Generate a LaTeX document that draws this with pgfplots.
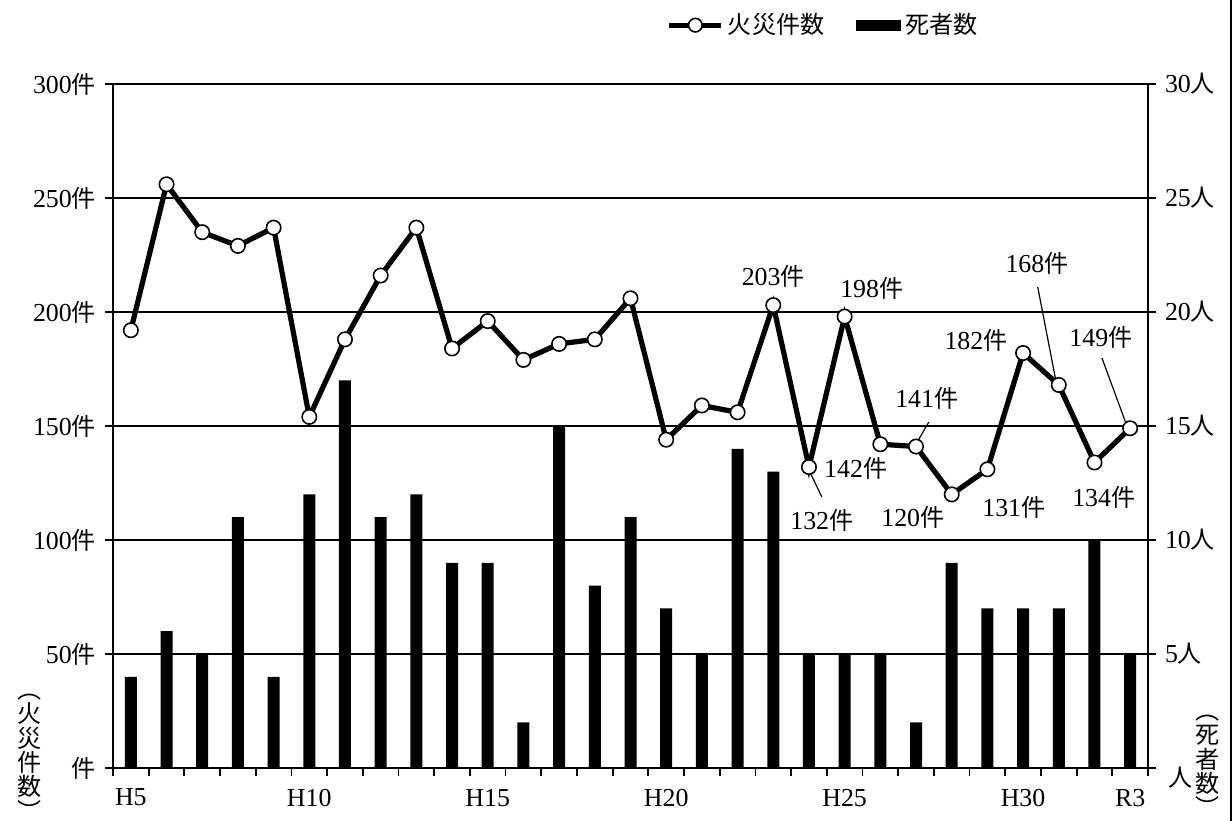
\documentclass[border=0pt]{standalone}
\usepackage{fontspec}
\setmainfont{Liberation Serif}
\newfontfamily\jp{Noto Sans CJK JP}[Scale=0.93]
\usepackage{pgfplots}
\pgfplotsset{compat=1.18}
\newcommand{\ken}{{\jp 件}}
\newcommand{\nin}{{\jp 人}}

% x: H5=5 ... H31=31, R2=32, R3=33
\pgfplotstableread{
yr deaths
5 4
6 6
7 5
8 11
9 4
10 12
11 17
12 11
13 12
14 9
15 9
16 2
17 15
18 8
19 11
20 7
21 5
22 14
23 13
24 5
25 5
26 5
27 2
28 9
29 7
30 7
31 7
32 10
33 5
}\deaths

\pgfplotstableread{
yr fires
5 192
6 256
7 235
8 229
9 237
10 154
11 188
12 216
13 237
14 184
15 196
16 179
17 186
18 188
19 206
20 144
21 159
22 156
23 203
24 132
25 198
26 142
27 141
28 120
29 131
30 182
31 168
32 134
33 149
}\fires

\begin{document}
\fontsize{13}{15}\selectfont
\begin{tikzpicture}
\path[use as bounding box] (-56.5bp,-26.5bp) rectangle (559.5bp,384bp);

% deaths (bars, right axis) with frame and grid
\begin{axis}[
  scale only axis, width=517.5bp, height=342bp,
  xmin=4.5, xmax=33.5, ymin=0, ymax=30,
  axis line style={line width=0.9bp},
  xtick pos=lower, ytick pos=right,
  tick align=outside,
  major tick length=4bp,
  tick style={black, line width=0.9bp},
  xtick={4.5,5.5,...,33.5}, xticklabels={},
  extra x ticks={5,10,15,20,25,30,33},
  extra x tick labels={H5,H10,H15,H20,H25,H30,R3},
  extra x tick style={major tick length=0pt, xticklabel style={yshift=-6bp}},
  ytick={0,5,...,30},
  yticklabels={{},5\nin,10\nin,15\nin,20\nin,25\nin,30\nin},
  ymajorgrids,
  grid style={black, line width=0.8bp},
]
\addplot[ybar, bar width=6bp, bar shift=0pt, fill=black, draw=none] table[x=yr, y=deaths] {\deaths};
\end{axis}

% fires (line, left axis)
\begin{axis}[
  scale only axis, width=517.5bp, height=342bp,
  xmin=4.5, xmax=33.5, ymin=0, ymax=300,
  axis x line=none, axis y line*=left,
  axis line style={line width=0.9bp},
  tick align=outside,
  major tick length=4bp,
  tick style={black, line width=0.9bp},
  ytick={0,50,...,300},
  yticklabels={\ken,50\ken,100\ken,150\ken,200\ken,250\ken,300\ken},
  legend style={at={(rel axis cs:0.687,1.086)}, anchor=center, draw=none, fill=none,
    legend columns=2, font=\jp,
    /tikz/every even column/.append style={column sep=14bp}},
  legend cell align=left,
  clip=false,
]
\addplot[black, line width=2.6bp, mark=*, mark size=3.6bp,
  mark options={fill=white, draw=black, line width=0.8bp},
  legend image code/.code={
    \draw[line width=2.6bp] (0bp,0bp) -- (26bp,0bp);
    \draw[fill=white, line width=0.8bp] (13bp,0bp) circle (3.4bp);}]
  table[x=yr, y=fires] {\fires};
\addlegendentry{火災件数}
\addlegendimage{legend image code/.code={\fill[black] (0bp,-2.6bp) rectangle (22bp,2.6bp);}}
\addlegendentry{死者数}

\node at (axis cs:23.0,215.4) {203\ken};
\node at (axis cs:25.76,210.5) {198\ken};
\node at (axis cs:24.36,108.8) {132\ken};
\node at (axis cs:25.31,131.6) {142\ken};
\node at (axis cs:27.3,162.3) {141\ken};
\node at (axis cs:26.91,110.1) {120\ken};
\node at (axis cs:29.74,114.5) {131\ken};
\node at (axis cs:28.68,187.7) {182\ken};
\node at (axis cs:30.39,221.5) {168\ken};
\node at (axis cs:32.18,189) {149\ken};
\node at (axis cs:32.26,118.9) {134\ken};
\draw[line width=0.6bp] (axis cs:24.0,130.7) -- (axis cs:24.36,118.9);
\draw[line width=0.6bp] (axis cs:27.36,151.8) -- (axis cs:27.05,143.4);
\draw[line width=0.6bp] (axis cs:30.41,211) -- (axis cs:30.92,169.7);
\draw[line width=0.6bp] (axis cs:32.21,179.8) -- (axis cs:32.91,150);
\end{axis}

\node[align=center, inner sep=0pt, font={\jp\fontsize{13}{12.2}\selectfont}] at (-41.5bp,5.5bp) {︵\\火\\災\\件\\数\\︶};
\node[align=center, inner sep=0pt, font={\jp\fontsize{13}{12.2}\selectfont}] at (547.5bp,1bp) {︵\\死\\者\\数\\︶};
\node[inner sep=0pt] at (534bp,-5bp) {\nin};
\draw[line width=0.8bp] (559.1bp,-26.5bp) -- (559.1bp,384bp);
\end{tikzpicture}
\end{document}
